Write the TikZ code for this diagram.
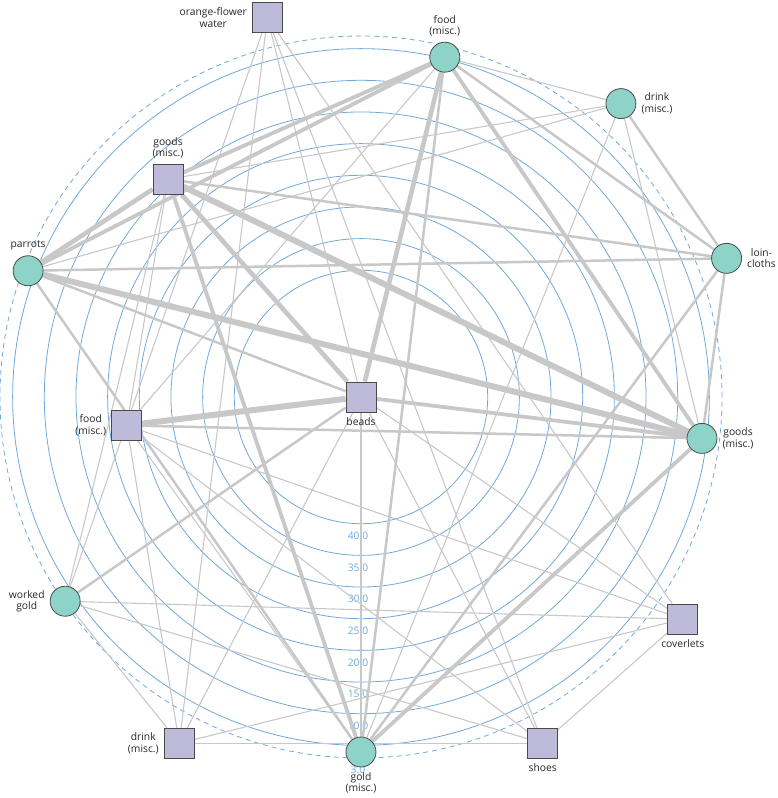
\documentclass[tikz,border=0pt]{standalone}
\usepackage{fontspec}
\setmainfont{Open Sans}
\usetikzlibrary{backgrounds}
\definecolor{ringblue}{HTML}{6FA8DC}
\definecolor{edgegray}{HTML}{C8C8C8}
\definecolor{tealfill}{HTML}{8DD3C7}
\definecolor{lilacfill}{HTML}{BEBADA}
\definecolor{rim}{HTML}{4A4A4A}

\begin{document}
\begin{tikzpicture}[
  x=1pt,y=1pt,
  every node/.style={font=\fontsize{10.3}{11.5}\selectfont},
  every label/.style={align=center,inner sep=0pt,text=black!85},
  label distance=5pt,
  circ/.style={circle,draw=rim,fill=tealfill,line width=0.8pt,minimum size=30pt,inner sep=0pt},
  sq/.style={rectangle,draw=rim,fill=lilacfill,line width=0.8pt,minimum size=30pt,inner sep=0pt},
  ring/.style={draw=ringblue,line width=0.8pt},
  ringlbl/.style={text=ringblue,inner sep=0pt},
  edge/.style={draw=edgegray},
  ew1/.style={edge,line width=1.1pt},
  ew2/.style={edge,line width=2.5pt},
  ew3/.style={edge,line width=3.8pt},
  ew4/.style={edge,line width=4.6pt},
  ew5/.style={edge,line width=6pt}
]
\useasboundingbox (-361,-401) rectangle (416,397);

% nodes, 13 sectors round the centre
\node[sq,label=below:beads] (beads) at (0,0) {};
\node[circ,label={below:{gold\\(misc.)}}] (gold) at (270:355) {};
\node[sq,label=below:shoes] (shoes) at (297.69:391) {};
\node[sq,label=below:coverlets] (coverlets) at (325.38:391) {};
\node[circ,label={right:{goods\\(misc.)}}] (goodsc) at (353.08:343.5) {};
\node[circ,label={right:{loin-\\cloths}}] (loincloths) at (20.77:391) {};
\node[circ,label={right:{drink\\(misc.)}}] (drinkc) at (48.46:392) {};
\node[circ,label={above:{food\\(misc.)}}] (foodc) at (76.15:350) {};
\node[sq,label={left:{orange-flower\\water}}] (orange) at (103.85:391) {};
\node[sq,label={above:{goods\\(misc.)}}] (goodsq) at (131.54:291) {};
\node[circ,label=above:parrots] (parrots) at (159.23:356) {};
\node[sq,label={left:{food\\(misc.)}}] (foodsq) at (186.92:236) {};
\node[circ,label={left:{worked\\gold}}] (workedgold) at (214.62:359.5) {};
\node[sq,label={left:{drink\\(misc.)}}] (drinksq) at (242.31:391) {};

\begin{scope}[on background layer]
% value rings
\foreach \v [evaluate=\v as \r using 126.7+(40-\v)*6.333] in {5,10,...,40} {
  \draw[ring] (beads.center) circle (\r);
  \node[ringlbl] at (-3,-\r-12) {\v.0};
}
\draw[ring,dash pattern=on 5pt off 4pt] (beads.center) circle (361);
\node[ringlbl] at (-3,-373) {3.0};

% connectors
\foreach \a/\b in {beads/drinksq,beads/orange,beads/shoes,beads/coverlets,
  parrots/drinkc,goodsq/drinkc,goodsq/workedgold,goodsq/foodsq,foodc/drinkc,
  foodc/foodsq,drinkc/gold,drinkc/goodsc,orange/workedgold,workedgold/coverlets,
  workedgold/shoes,workedgold/drinksq,drinksq/foodsq,drinksq/orange,
  drinksq/coverlets,drinksq/shoes,foodsq/coverlets,foodsq/shoes,foodsq/gold,
  coverlets/shoes,orange/shoes,orange/coverlets}
  \draw[ew1] (\a) -- (\b);
\foreach \a/\b in {beads/gold,beads/workedgold,beads/parrots,parrots/loincloths,
  parrots/gold,goodsq/loincloths,foodc/loincloths,foodc/gold,drinkc/loincloths,
  loincloths/goodsc,loincloths/gold,goodsc/foodsq}
  \draw[ew2] (\a) -- (\b);
\foreach \a/\b in {beads/goodsc,goodsq/gold,foodc/goodsc,goodsc/gold,
  parrots/foodc,goodsq/foodc}
  \draw[ew3] (\a) -- (\b);
\foreach \a/\b in {beads/foodc,beads/goodsq,parrots/goodsq}
  \draw[ew4] (\a) -- (\b);
\foreach \a/\b in {beads/foodsq,parrots/goodsc,goodsq/goodsc}
  \draw[ew5] (\a) -- (\b);
\end{scope}
\end{tikzpicture}
\end{document}
